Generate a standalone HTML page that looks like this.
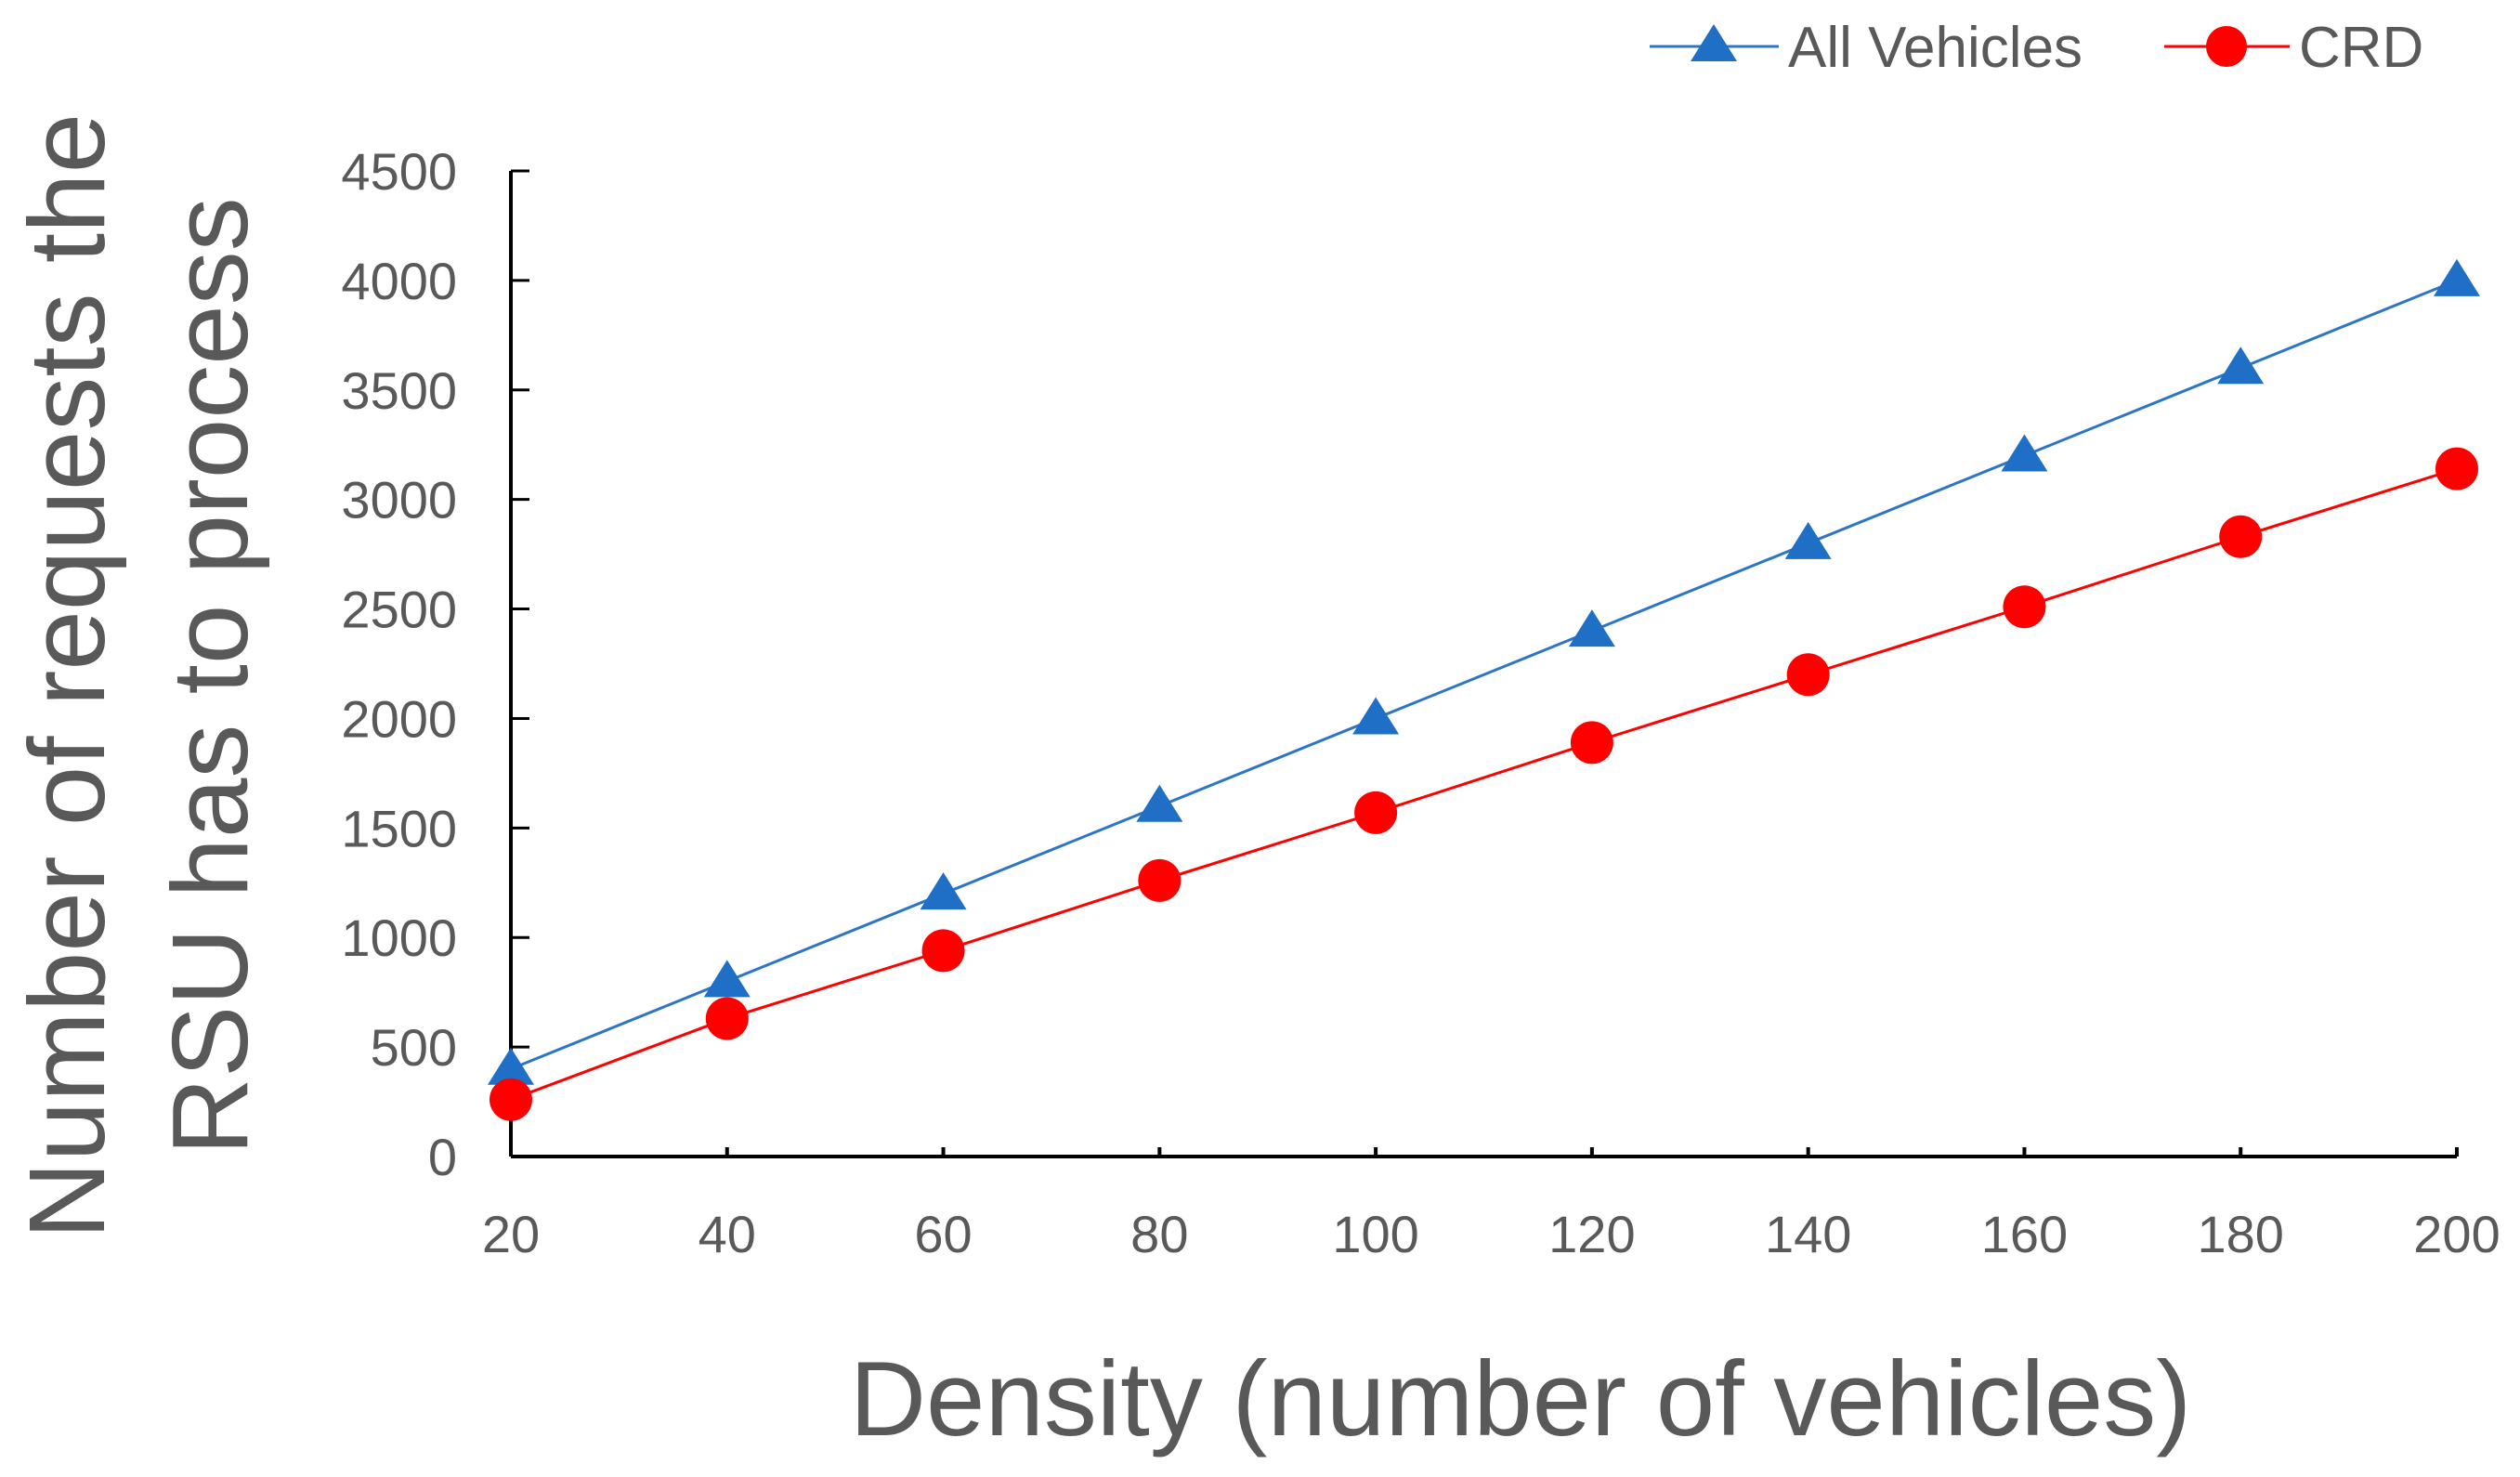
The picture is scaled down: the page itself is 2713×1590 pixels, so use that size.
<!DOCTYPE html>
<html><head><meta charset="utf-8"><style>
html,body{margin:0;padding:0;background:#fff;}
svg{display:block;font-family:"Liberation Sans",sans-serif;}
</style></head><body>
<svg id="chart" width="2713" height="1590" viewBox="0 0 2713 1590" xmlns="http://www.w3.org/2000/svg">
<g id="axes"></g>
<g id="series"></g>
<text transform="translate(112,728) rotate(-90)" text-anchor="middle" font-size="116" fill="#595959">Number of requests the</text>
<text transform="translate(266,728) rotate(-90)" text-anchor="middle" font-size="116" fill="#595959">RSU has to process</text>
<text x="1637" y="1545" text-anchor="middle" font-size="114" fill="#595959">Density (number of vehicles)</text>
<g>
  <g>
    <line x1="1776" y1="50" x2="1915" y2="50" stroke="#2E75C6" stroke-width="3"/>
    <polygon points="1845,26 1870,66 1820,66" fill="#1F6FC6"/>
    <text x="1925" y="72" font-size="62" fill="#595959">All Vehicles</text>
  </g>
  <g>
    <line x1="2330" y1="50" x2="2465" y2="50" stroke="#FF0000" stroke-width="3"/>
    <circle cx="2397" cy="50" r="22" fill="#FF0000"/>
    <text x="2475" y="72" font-size="62" fill="#595959">CRD</text>
  </g>
</g>
</svg>
<script>
const categories = [20,40,60,80,100,120,140,160,180,200];
const allVehicles = [400,800,1200,1600,2000,2400,2800,3200,3600,4000];
const crd = [260,630,940,1260,1570,1890,2200,2510,2830,3140];
const yTicks = [0,500,1000,1500,2000,2500,3000,3500,4000,4500];
const NS = "http://www.w3.org/2000/svg";
const X0=550, X1=2645, Y0=1245, Y1=184;
function xs(v){return X0+(v-20)/(200-20)*(X1-X0);}
function ys(v){return Y0-v/4500*(Y0-Y1);}
function mk(tag,attrs,parent){const e=document.createElementNS(NS,tag);for(const k in attrs)e.setAttribute(k,attrs[k]);parent.appendChild(e);return e;}
const ax=document.getElementById('axes');
let l=mk('line',{x1:X0,y1:Y1,x2:X0,y2:Y0,stroke:'#000','stroke-width':4},ax);


l=mk('line',{x1:X0,y1:Y0,x2:X1,y2:Y0,stroke:'#000','stroke-width':4},ax);


yTicks.forEach(t=>{
  const y=ys(t);
  const tk=mk('line',{x1:X0,y1:y,x2:X0+20,y2:y,stroke:'#000','stroke-width':3},ax);
  
  
  const tx=mk('text',{x:X0-58,y:y+20,'text-anchor':'end','font-size':56,fill:'#595959'},ax);
  
  
  tx.textContent=t;
});
categories.forEach(c=>{
  const x=xs(c);
  const tk=mk('line',{x1:x,y1:Y0,x2:x,y2:Y0-10,stroke:'#000','stroke-width':4},ax);
  
  
  const tx=mk('text',{x:x,y:1348,'text-anchor':'middle','font-size':56,fill:'#595959'},ax);
  
  
  tx.textContent=c;
});
const sg=document.getElementById('series');
function pts(vals){return categories.map((c,i)=>xs(c)+','+ys(vals[i])).join(' ');}
let p=mk('polyline',{points:pts(allVehicles),fill:'none',stroke:'#2E75C6','stroke-width':3},sg);


p=mk('polyline',{points:pts(crd),fill:'none',stroke:'#FF0000','stroke-width':3},sg);


categories.forEach((c,i)=>{
  const x=xs(c), y=ys(allVehicles[i]);
  const t=mk('polygon',{points:`${x},${y-23} ${x+25},${y+17} ${x-25},${y+17}`,fill:'#1F6FC6'},sg);
  
  
});
categories.forEach((c,i)=>{
  const ci=mk('circle',{cx:xs(c),cy:ys(crd[i]),r:23,fill:'#FF0000'},sg);
  
  
});
</script>
</body></html>
